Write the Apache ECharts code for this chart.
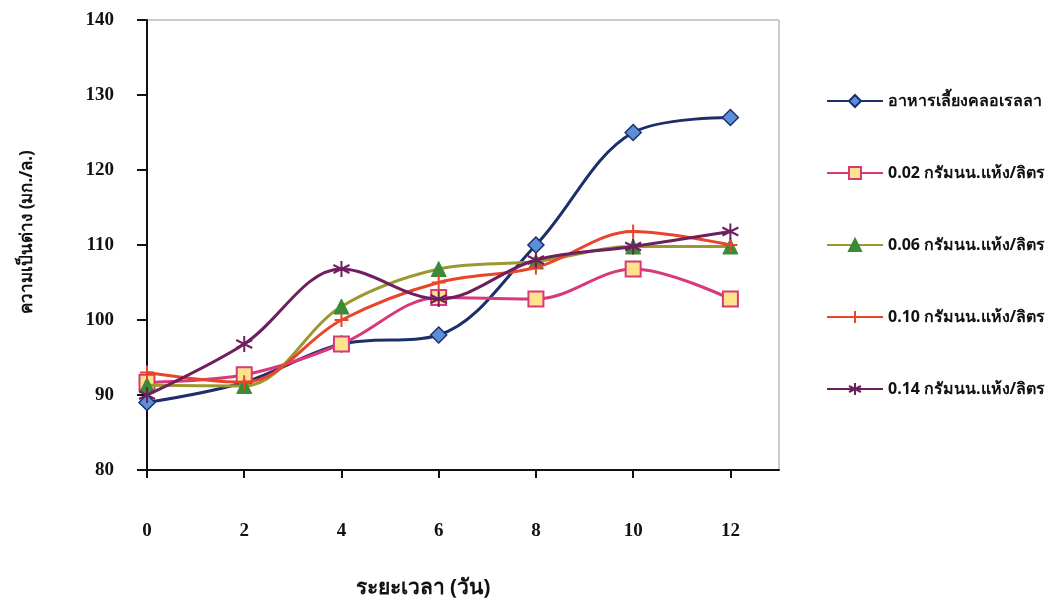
<!DOCTYPE html>
<html>
<head>
<meta charset="utf-8">
<script src="https://cdn.jsdelivr.net/npm/echarts@6/dist/echarts.min.js"></script>
<style>
html,body{margin:0;padding:0;background:#fff;}
#chart{width:1045px;height:602px;}
</style>
</head>
<body>
<div id="chart"></div>
<script>
const days = [0, 2, 4, 6, 8, 10, 12];
const yTicks = [80, 90, 100, 110, 120, 130, 140];
const seriesNames = [
  'อาหารเลี้ยงคลอเรลลา',
  '0.02 กรัมนน.แห้ง/ลิตร',
  '0.06 กรัมนน.แห้ง/ลิตร',
  '0.10 กรัมนน.แห้ง/ลิตร',
  '0.14 กรัมนน.แห้ง/ลิตร'
];
const chlorella = [89, 91.7, 96.8, 98, 110, 125, 127];
const dose002 = [91.7, 92.7, 96.8, 103, 102.8, 106.8, 102.8];
const dose006 = [91.3, 91.2, 101.8, 106.8, 107.8, 109.8, 109.8];
const dose010 = [93, 91.7, 100, 105, 107, 111.8, 110];
const dose014 = [90, 96.8, 106.8, 102.8, 108, 109.8, 111.8];
const xTitle = 'ระยะเวลา (วัน)';
const yTitle = 'ความเป็นด่าง (มก./ล.)';

const thaiFont = '"Noto Sans", "DejaVu Sans", Tahoma, sans-serif';
const serif = '"Liberation Serif", "Times New Roman", serif';

function pts(vals) { return days.map((d, i) => [d, vals[i]]); }

const plusPath = 'path://M5,0L5,10M0,5L10,5';
const starPath = 'path://M5,0L5,10M0.7,2.5L9.3,7.5M0.7,7.5L9.3,2.5';

const styles = [
  {data: chlorella, line: '#1D2F6A', symbol: 'diamond', size: 16, fill: '#5C8FDA', border: '#1D2F6A', bw: 1.5},
  {data: dose002, line: '#D8397A', symbol: 'rect', size: 15, fill: '#FFE38C', border: '#D8397A', bw: 2},
  {data: dose006, line: '#9C9830', symbol: 'triangle', size: 15, fill: '#3C8A36', border: '#3C8A36', bw: 1},
  {data: dose010, line: '#E9442C', symbol: plusPath, size: 14, fill: 'rgba(245,180,150,0.6)', border: '#E9442C', bw: 2},
  {data: dose014, line: '#6E1F5E', symbol: starPath, size: 16, fill: 'rgba(0,0,0,0)', border: '#6E1F5E', bw: 2}
];

const chart = echarts.init(document.getElementById('chart'), null, {renderer: 'canvas'});
chart.setOption({
  backgroundColor: '#ffffff',
  animation: false,
  grid: {
    left: 147, top: 20, right: 266, bottom: 132,
    show: true, borderColor: '#9a9a9a', borderWidth: 1, backgroundColor: 'transparent'
  },
  legend: {
    orient: 'vertical',
    left: 821,
    top: 88,
    itemWidth: 56,
    itemHeight: 15,
    itemGap: 56,
    data: seriesNames,
    textStyle: {fontFamily: thaiFont, fontWeight: 'bold', fontSize: 16, color: '#111'}
  },
  xAxis: {
    type: 'value',
    min: 0, max: 13, interval: 2,
    splitLine: {show: false},
    axisLine: {show: true, onZero: false, lineStyle: {color: '#111', width: 2}},
    axisTick: {show: true, inside: false, length: 8, customValues: days, lineStyle: {color: '#111', width: 2}},
    axisLabel: {
      customValues: days, margin: 52,
      fontFamily: serif, fontWeight: 'bold', fontSize: 19, color: '#111'
    }
  },
  yAxis: {
    type: 'value',
    min: 80, max: 140, interval: 10,
    splitLine: {show: false},
    axisLine: {show: true, onZero: false, lineStyle: {color: '#111', width: 2}},
    axisTick: {show: true, inside: false, length: 10, customValues: yTicks, lineStyle: {color: '#111', width: 2}},
    axisLabel: {
      customValues: yTicks, margin: 33,
      fontFamily: serif, fontWeight: 'bold', fontSize: 19, color: '#111'
    }
  },
  graphic: [
    {
      type: 'text',
      position: [423, 588],
      style: {text: xTitle, fontFamily: thaiFont, fontWeight: 'bold', fontSize: 21, fill: '#111',
              textAlign: 'center', textVerticalAlign: 'middle'}
    },
    {
      type: 'text',
      rotation: Math.PI / 2,
      position: [27, 232],
      style: {text: yTitle, fontFamily: thaiFont, fontWeight: 'bold', fontSize: 17, fill: '#111',
              textAlign: 'center', textVerticalAlign: 'middle'}
    }
  ],
  series: styles.map((s, i) => ({
    name: seriesNames[i],
    type: 'line',
    data: pts(s.data),
    smooth: 0.35,
    symbol: s.symbol,
    symbolSize: s.size,
    showAllSymbol: true,
    lineStyle: {color: s.line, width: 3},
    itemStyle: {color: s.fill, borderColor: s.border, borderWidth: s.bw},
    z: 2 + i
  }))
});
</script>
</body>
</html>
